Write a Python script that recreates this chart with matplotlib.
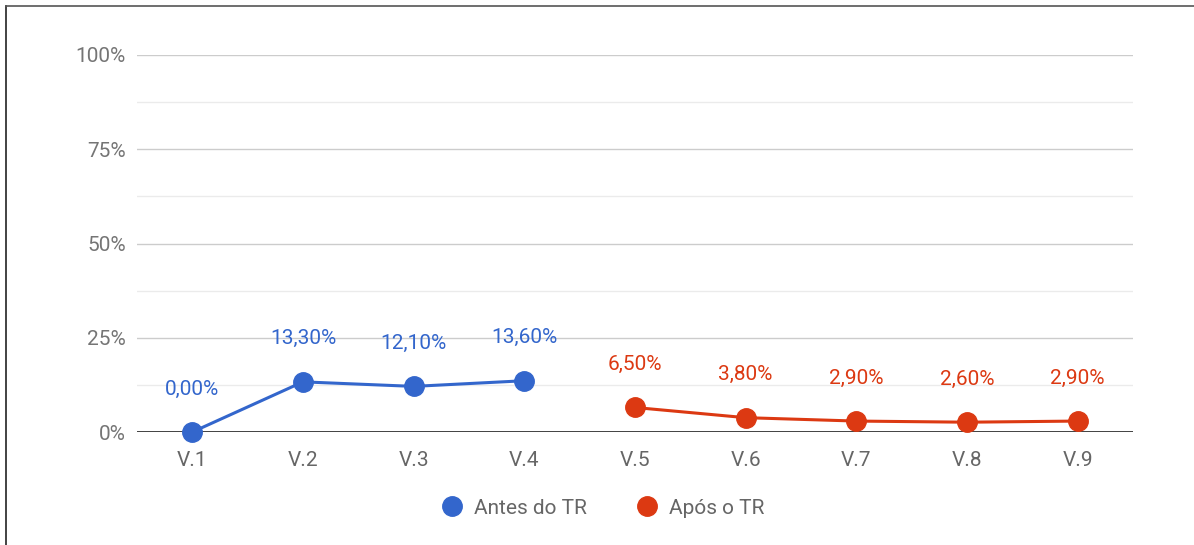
import numpy as np
import matplotlib.pyplot as plt
from matplotlib.lines import Line2D

plt.rcParams['font.family'] = ['Roboto', 'DejaVu Sans']

visitas = ['V.1', 'V.2', 'V.3', 'V.4', 'V.5', 'V.6', 'V.7', 'V.8', 'V.9']
antes_idx = [0, 1, 2, 3]
antes_val = [0.0, 13.3, 12.1, 13.6]
apos_idx = [4, 5, 6, 7, 8]
apos_val = [6.5, 3.8, 2.9, 2.6, 2.9]
y_ticks = [0, 25, 50, 75, 100]
y_labels = ['0%', '25%', '50%', '75%', '100%']

azul = '#3366cc'
verm = '#dc3912'
fs = 15

fig = plt.figure(figsize=(11.94, 5.45), dpi=100)
ax = fig.add_axes([137/1194, 1-432/545, 996/1194, 377/545])

# grade
for v in [12.5, 37.5, 62.5, 87.5]:
    ax.axhline(v, color='#ebebeb', lw=1, zorder=0)
for v in y_ticks[1:]:
    ax.axhline(v, color='#cccccc', lw=1, zorder=0)
ax.axhline(0, color='#333333', lw=1.3, zorder=1)

ax.plot(antes_idx, antes_val, color=azul, lw=2.2, marker='o', ms=14, zorder=3, clip_on=False)
ax.plot(apos_idx, apos_val, color=verm, lw=2.2, marker='o', ms=14, zorder=3, clip_on=False)

for x, v in zip(antes_idx, antes_val):
    ax.annotate(f'{v:.2f}%'.replace('.', ','), (x, v), xytext=(0, 31), textcoords='offset points',
                ha='center', va='center', color=azul, fontsize=fs)
for x, v in zip(apos_idx, apos_val):
    ax.annotate(f'{v:.2f}%'.replace('.', ','), (x, v), xytext=(0, 31), textcoords='offset points',
                ha='center', va='center', color=verm, fontsize=fs)

ax.set_xlim(-0.5, 8.5)
ax.set_ylim(0, 100)
ax.set_xticks(range(len(visitas)))
ax.set_xticklabels(visitas, color='#666666', fontsize=fs)
ax.set_yticks(y_ticks)
ax.set_yticklabels(y_labels, color='#757575', fontsize=fs)
ax.tick_params(length=0, axis='y', pad=8)
ax.tick_params(length=0, axis='x', pad=14)
for s in ax.spines.values():
    s.set_visible(False)

handles = [Line2D([], [], ls='', marker='o', ms=14, color=azul),
           Line2D([], [], ls='', marker='o', ms=14, color=verm)]
fig.legend(handles, ['Antes do TR', 'Após o TR'], loc='center', bbox_to_anchor=(0.505, 1-508/545),
           ncol=2, frameon=False, fontsize=fs, labelcolor='#666666', handletextpad=0.55,
           columnspacing=2.4, handlelength=1.0)

# borda (so topo e esquerda aparecem)
fig.add_artist(Line2D([6/1194, 6/1194], [0, 1-6/545], color='#222222', lw=1.2))
fig.add_artist(Line2D([6/1194, 1], [1-6/545, 1-6/545], color='#555555', lw=1.2))

fig.savefig('out.png', dpi=100)
